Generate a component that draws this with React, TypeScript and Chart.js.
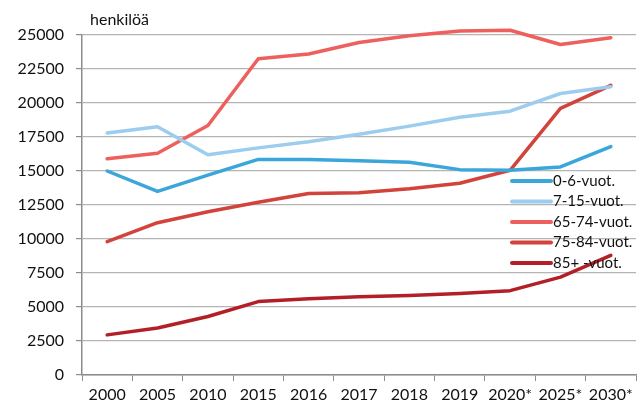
import React, { useEffect, useRef } from "react";
import { Chart, registerables } from "chart.js";

Chart.register(...registerables);

const categories = ["2000", "2005", "2010", "2015", "2016", "2017", "2018", "2019", "2020*", "2025*", "2030*"];
const age0to6 = [15000, 13500, 14700, 15850, 15850, 15750, 15650, 15100, 15050, 15300, 16800];
const age7to15 = [17800, 18250, 16200, 16700, 17150, 17700, 18300, 18950, 19400, 20700, 21200];
const age65to74 = [15900, 16300, 18350, 23250, 23600, 24450, 24950, 25300, 25350, 24300, 24800];
const age75to84 = [9800, 11200, 12000, 12700, 13350, 13400, 13700, 14100, 15050, 19600, 21300];
const age85plus = [2950, 3450, 4300, 5400, 5600, 5750, 5850, 6000, 6200, 7200, 8800];
const seriesLabels = ["0-6-vuot.", "7-15-vuot.", "65-74-vuot.", "75-84-vuot.", "85+ -vuot."];
const seriesColors = ["#3aa6da", "#9ccdee", "#ee605d", "#d2433b", "#b31f27"];
const yTitle = "henkilöä";

const FONT = "Lato, 'Liberation Sans', sans-serif";

const overlayPlugin = {
  id: "overlay",
  afterDatasetsDraw(chart: any) {
    const ctx = chart.ctx;
    const area = chart.chartArea;
    ctx.save();
    ctx.fillStyle = "#111";
    ctx.font = `16px ${FONT}`;
    ctx.textBaseline = "middle";
    ctx.textAlign = "left";
    ctx.fillText(yTitle, area.left + 8, 20);
    const x0 = area.right - 124;
    const y0 = area.top + 146;
    chart.data.datasets.forEach((ds: any, i: number) => {
      const y = y0 + i * 20.5;
      ctx.strokeStyle = ds.borderColor;
      ctx.lineWidth = 4;
      ctx.lineCap = "round";
      ctx.beginPath();
      ctx.moveTo(x0, y);
      ctx.lineTo(x0 + 39, y);
      ctx.stroke();
      ctx.fillStyle = "#111";
      ctx.font = `15px ${FONT}`;
      ctx.fillText(ds.label, x0 + 41, y);
    });
    ctx.restore();
  },
};

export default function App() {
  const ref = useRef<HTMLCanvasElement>(null);
  useEffect(() => {
    document.body.style.margin = "0";
    const data = [age0to6, age7to15, age65to74, age75to84, age85plus];
    const chart = new Chart(ref.current!, {
      type: "line",
      data: {
        labels: categories,
        datasets: data.map((d, i) => ({
          label: seriesLabels[i],
          data: d,
          borderColor: seriesColors[i],
          backgroundColor: seriesColors[i],
          borderWidth: 3.5,
          pointRadius: 0,
          tension: 0,
          fill: false,
          clip: false as any,
          borderCapStyle: "round" as const,
          borderJoinStyle: "round" as const,
        })),
      },
      options: {
        animation: false,
        responsive: false,
        maintainAspectRatio: false,
        layout: { padding: { top: 35, right: 7, left: 0, bottom: 0 } },
        plugins: {
          legend: { display: false },
          tooltip: { enabled: false },
        },
        scales: {
          x: {
            type: "category",
            offset: true,
            grid: {
              offset: true,
              drawOnChartArea: false,
              drawTicks: true,
              tickLength: 6,
              color: "#8c8c8c",
            },
            border: { color: "#8c8c8c", width: 1.5 },
            ticks: {
              color: "#111",
              font: { size: 16, family: FONT },
              padding: 4,
              maxRotation: 0,
              autoSkip: false,
            },
            afterFit: (s: any) => {
              s.height = 33;
            },
          },
          y: {
            min: 0,
            max: 25000,
            ticks: {
              stepSize: 2500,
              color: "#111",
              font: { size: 16, family: FONT },
              padding: 12,
              callback: (v: any) => String(v),
            },
            grid: {
              color: "#b4b4b4",
              lineWidth: 1.2,
              tickLength: 6,
              tickColor: "#8c8c8c",
            },
            border: { color: "#8c8c8c", width: 1.5 },
            afterFit: (s: any) => {
              s.width = 82;
            },
          },
        },
      },
      plugins: [overlayPlugin],
    });
    return () => chart.destroy();
  }, []);
  return <canvas ref={ref} width={643} height={408} style={{ display: "block" }} />;
}
